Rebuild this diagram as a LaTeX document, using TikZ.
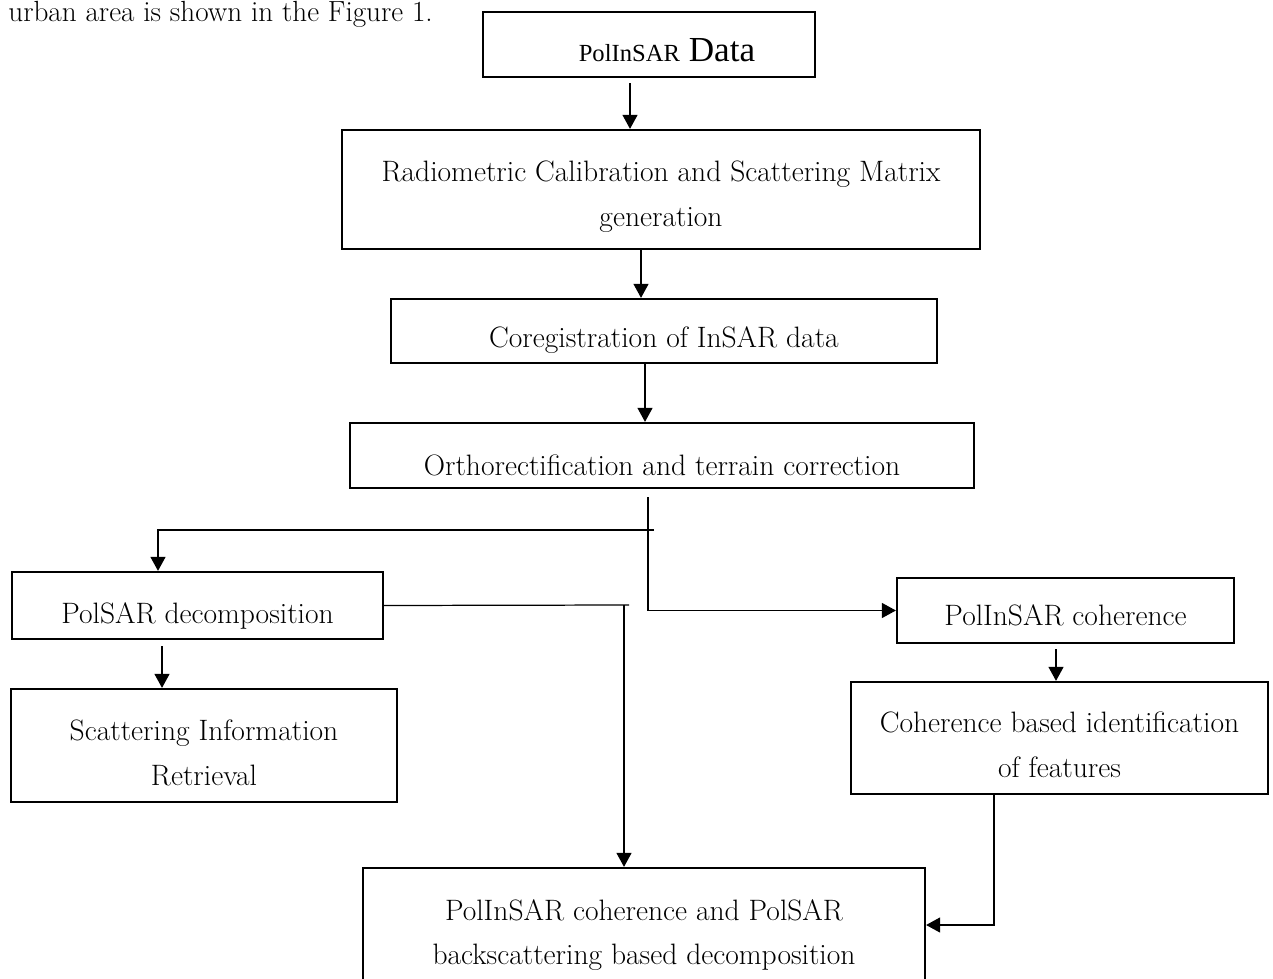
\documentclass[tikz,border=0pt]{standalone}
\usepackage{fontspec}
\newfontfamily\timesfont{Liberation Serif}
\usetikzlibrary{arrows.meta}
\tikzset{>={Triangle[length=0.28cm,width=0.3cm]},
  box/.style={draw, line width=1.3pt, inner sep=0pt, align=center, font=\fontsize{16.8}{25.3}\selectfont},
  flow/.style={->, line width=0.7pt},
  low/.style={text height=#1, text depth=0pt},
  high/.style={text height=0pt, text depth=#1}}

\begin{document}
\begin{tikzpicture}[x=0.02cm, y=-0.02cm]
  \useasboundingbox (0,0) rectangle (1273,979);

  \node (intro) [anchor=base west, inner sep=0pt, font=\fontsize{16.6}{18}\selectfont] at (8,22) {urban area is shown in the Figure 1.};

  \node (data) [box, minimum width=6.64cm, minimum height=1.3cm, low=19.9pt] at (649,44.5)
    {\hspace*{0.72cm}{\timesfont\fontsize{14}{16}\selectfont PolInSAR} {\timesfont\fontsize{20}{22}\selectfont Data}};
  \node (radio) [box, minimum width=12.76cm, minimum height=2.38cm, low=41.6pt] at (661,189.5)
    {Radiometric Calibration and Scattering Matrix\\generation};
  \node (coreg) [box, minimum width=10.92cm, minimum height=1.28cm, low=19.3pt] at (664,331)
    {Coregistration of InSAR data};
  \node (ortho) [box, minimum width=12.48cm, minimum height=1.3cm, low=23.3pt] at (662,455.5)
    {Orthorectification and terrain correction};
  \node (polsar) [box, minimum width=7.42cm, minimum height=1.34cm, low=20pt] at (197.5,605.5)
    {PolSAR decomposition};
  \node (scat) [box, minimum width=7.72cm, minimum height=2.26cm, low=45pt] at (204,745.5)
    {Scattering Information\\Retrieval};
  \node (pcoh) [box, minimum width=6.74cm, minimum height=1.3cm, low=17.6pt] at (1065.5,610.5)
    {PolInSAR coherence};
  \node (cbased) [box, minimum width=8.34cm, minimum height=2.24cm, low=44.4pt] at (1059.5,738)
    {Coherence based identification\\of features};
  \node (final) [box, minimum width=11.24cm, minimum height=2.28cm, low=45.5pt] at (644,925)
    {PolInSAR coherence and PolSAR\\backscattering based decomposition};

  \coordinate (split) at (654,530);
  \coordinate (splitw) at (158,530);
  \coordinate (drop) at (624,605);

  \draw[flow] ([xshift=-0.38cm,yshift=-0.1cm]data.south) -- ([xshift=-0.38cm]data.south |- radio.north);
  \draw[flow] ([xshift=-0.4cm]radio.south) -- ([xshift=-0.4cm]radio.south |- coreg.north);
  \draw[flow] ([xshift=-0.38cm]coreg.south) -- ([xshift=-0.38cm]coreg.south |- ortho.north);
  \draw[flow] ([xshift=-0.28cm,yshift=-0.16cm]ortho.south) |- (pcoh.west);
  \draw[flow] (split) -- (splitw) -- (splitw |- polsar.north);
  \draw[flow] ([xshift=-0.71cm,yshift=-0.12cm]polsar.south) -- ([xshift=-0.71cm]polsar.south |- scat.north);
  \draw[line width=0.7pt] (polsar.east) -- ([xshift=0.1cm]drop);
  \draw[flow] (drop) -- (drop |- final.north);
  \draw[flow] ([xshift=-0.19cm,yshift=-0.1cm]pcoh.south) -- ([xshift=-0.19cm]pcoh.south |- cbased.north);
  \draw[flow] ([xshift=-1.31cm]cbased.south) |- (final.east);
\end{tikzpicture}
\end{document}
